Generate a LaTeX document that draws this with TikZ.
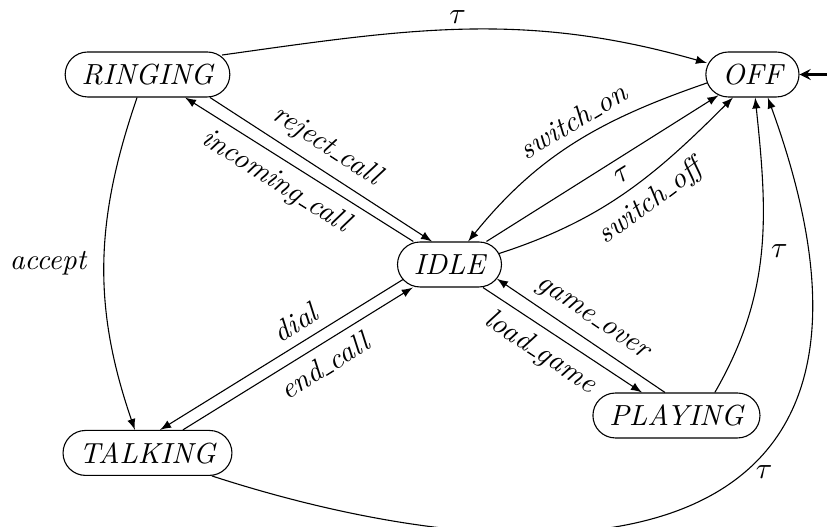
\documentclass[tikz,border=0pt]{standalone}
% short underscore between words of a label
\newcommand{\usc}{\leavevmode\kern.06em\vbox{\hrule width.3em height.5pt}\kern.02em}
\begin{document}
\begin{tikzpicture}[>=latex, font=\fontsize{10.6pt}{12.7pt}\selectfont\itshape,
    status/.style={draw, rounded corners=8.2pt, minimum height=16.4pt, inner xsep=6pt}]
  \useasboundingbox (0,0) rectangle (10.603,6.756);
  \draw
    (1.891,5.801) node[status] (ringing){RINGING}
    (9.647,5.801) node[status] (off){OFF}
    (5.763,3.365) node[status] (idle){IDLE}
    (1.891,0.949) node[status] (talking){TALKING}
    (8.673,1.429) node[status] (playing){PLAYING};
  % initial state
  \coordinate (start) at (11.2,5.801);
  \draw[-stealth, thick] (start) to (off);
  \begin{scope}[->]
    \draw ([shift={(27.2pt,7.1pt)}]ringing.center) to[out=8,in=164]
      node[pos=.48,above,inner sep=2pt]{$\tau$} ([shift={(-16.6pt,4.2pt)}]off.center);
    \draw ([xshift=-3.8pt]ringing.south) to[out=251,in=109]
      node[left=3pt]{accept} ([xshift=-4.6pt]talking.north);
    \draw ([xshift=-13.2pt]idle.north) to
      node[pos=.55,below,sloped]{incoming\usc call} ([xshift=13.7pt]ringing.south);
    \draw ([xshift=22.8pt]ringing.south) to
      node[pos=.47,above,sloped]{reject\usc call} ([xshift=-6.4pt]idle.north);
    \draw ([shift={(-17pt,-5.5pt)}]idle.center) to
      node[pos=.4,above,sloped]{dial} ([xshift=4.6pt]talking.north);
    \draw ([xshift=12.9pt]talking.north) to
      node[pos=.57,below,sloped]{end\usc call} ([xshift=-13.4pt]idle.south);
    \draw ([xshift=12.2pt]idle.south) to
      node[pos=.44,below,sloped]{load\usc game} ([xshift=-12.6pt]playing.north);
    \draw ([xshift=-4.2pt]playing.north) to
      node[above,sloped]{game\usc over} ([shift={(17.3pt,-5.2pt)}]idle.center);
    \draw ([shift={(-16.6pt,-3.1pt)}]off.center) to[out=199,in=51]
      node[pos=.46,above,sloped]{switch\usc on} ([xshift=6.8pt]idle.north);
    \draw ([xshift=13.5pt]idle.north) to
      node[pos=.55,below,sloped]{$\tau$} ([shift={(-12.4pt,-7.6pt)}]off.center);
    \draw ([shift={(18.1pt,4pt)}]idle.center) to[out=18,in=225]
      node[pos=.55,below,sloped]{switch\usc off} ([xshift=-7.1pt]off.south);
    \draw ([xshift=14pt]playing.north) to[out=60,in=276]
      node[right]{$\tau$} ([xshift=1pt]off.south);
    \draw ([xshift=23.5pt]talking.south)
      to[out=-18,in=-70,out looseness=1.29,in looseness=1.98]
      node[pos=.62,below right,inner sep=1pt]{$\tau$} ([xshift=5.6pt]off.south);
  \end{scope}
\end{tikzpicture}
\end{document}
